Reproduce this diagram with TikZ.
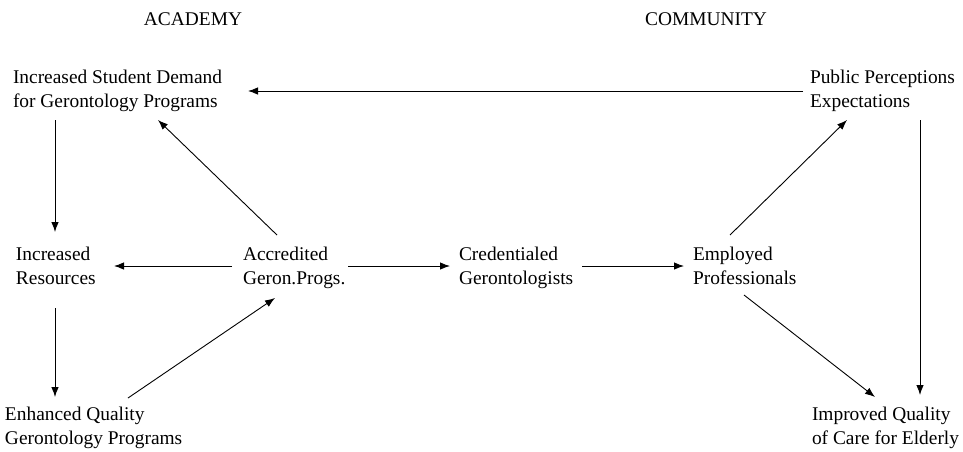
\documentclass[tikz,border=0pt]{standalone}
\usepackage{fontspec}
\setmainfont{Liberation Serif}
\usetikzlibrary{arrows.meta}
\begin{document}
\begin{tikzpicture}[x=1pt,y=-1pt,
  lbl/.style={anchor=west,inner sep=0pt,outer sep=0pt,align=left,font=\fontsize{19.4}{24}\selectfont},
  hdr/.style={anchor=base,inner sep=0pt,outer sep=0pt,font=\fontsize{19.4}{24}\selectfont},
  arr/.style={line width=0.9pt,-{Latex[length=10pt,width=7.5pt]}}]
\useasboundingbox (0,0) rectangle (963,451);
\node[hdr] (academy) at (193,25) {ACADEMY};
\node[hdr] (community) at (706,25) {COMMUNITY};
\node[lbl] (demand) at (13,91) {Increased Student Demand\strut\\for Gerontology Programs\strut};
\node[lbl] (public) at (810,91) {Public Perceptions\strut\\Expectations\strut};
\node[lbl] (resources) at (16,268) {Increased\strut\\Resources\strut};
\node[lbl] (accredited) at (243,268) {Accredited\strut\\Geron.Progs.\strut};
\node[lbl] (credentialed) at (459,268) {Credentialed\strut\\Gerontologists\strut};
\node[lbl] (employed) at (693,268) {Employed\strut\\Professionals\strut};
\node[lbl] (enhanced) at (5,428) {Enhanced Quality\strut\\Gerontology Programs\strut};
\node[lbl] (improved) at (812,428) {Improved Quality\strut\\of Care for Elderly\strut};
\draw[arr] ([shift={(-7,0)}]public.west) -- ([shift={(235,0)}]demand.west);
\draw[arr] ([shift={(42,29)}]demand.west) -- ([shift={(39,-36)}]resources.west);
\draw[arr] ([shift={(34,-33)}]accredited.west) -- ([shift={(145,29)}]demand.west);
\draw[arr] ([shift={(-11,-2)}]accredited.west) -- ([shift={(98,-2)}]resources.west);
\draw[arr] ([shift={(39,40)}]resources.west) -- ([shift={(50,-31)}]enhanced.west);
\draw[arr] ([shift={(123,-30)}]enhanced.west) -- ([shift={(32,30)}]accredited.west);
\draw[arr] ([shift={(105,-2)}]accredited.west) -- ([shift={(-9,-2)}]credentialed.west);
\draw[arr] ([shift={(123,-2)}]credentialed.west) -- ([shift={(-9,-2)}]employed.west);
\draw[arr] ([shift={(37,-33)}]employed.west) -- ([shift={(37,29)}]public.west);
\draw[arr] ([shift={(110,29)}]public.west) -- ([shift={(108,-33)}]improved.west);
\draw[arr] ([shift={(51,27)}]employed.west) -- ([shift={(63,-31)}]improved.west);
\end{tikzpicture}
\end{document}
